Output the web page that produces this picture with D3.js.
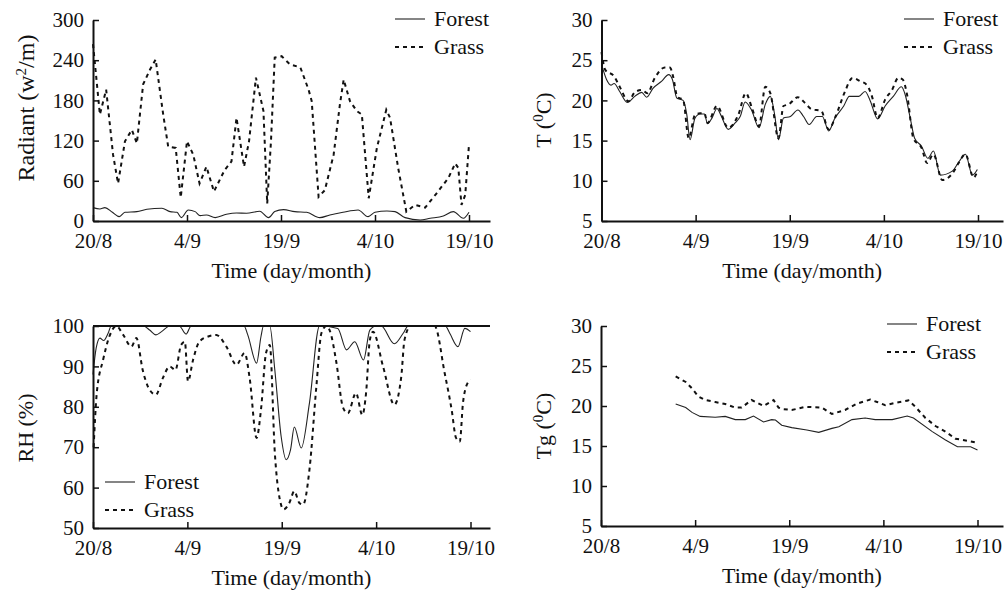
<!DOCTYPE html>
<html>
<head>
<meta charset="utf-8">
<script src="https://d3js.org/d3.v7.min.js"></script>
<style>
  body { margin: 0; background: #fff; }
  svg text { font-family: "Liberation Serif", "Times New Roman", serif; fill: #111; }
</style>
</head>
<body>
<svg id="chart" width="1004" height="594"></svg>
<script>
// x positions are days counted from 20/8
const xTickDays = [0, 15, 30, 45, 60];
const xTickLabels = ["20/8", "4/9", "19/9", "4/10", "19/10"];

// Radiant (w2/m)
const radGrassDays = [0,1.1,2.1,3.2,4,5.1,6.2,7,8,9.1,10,11.2,12,13.2,14,15,16,17,18.1,19.3,21,22.1,22.9,24.1,24.9,26,27.2,27.8,28.4,29,30.1,31.4,33.1,34.4,34.9,36,37,38.4,39.4,40,41,42.1,42.9,44,45.3,46.8,47.4,48.7,50,51.4,53,54.8,56.7,57.8,58.3,58.8,59.4,60];
const radGrass = [264,159,196,99,56,119,136,116,204,226,241,159,111,109,35,119,99,56,81,44,76,89,154,81,119,214,164,26,119,244,246,234,229,196,179,36,46,99,174,211,179,164,159,34,109,166,154,79,14,24,20,41,64,86,79,24,39,114];
const radForestDays = [0,1.1,1.9,3.1,4.2,5.1,7,8.6,11,12.3,13.4,14.1,15.2,16.3,17.1,18.1,19.5,21.3,22.9,24.5,26.6,28,29,30.4,32.2,34.1,36.2,37.8,39.9,42.3,43.9,45,46.9,48.2,49.8,52.2,53.8,55.9,57.5,59.1,60];
const radForest = [20,18,20,13,6.5,13,14,17.5,19,14,13,5,16.5,14,8,9,5,10,12,11.5,14.5,5,14,17,14,13,5,9,13,16.5,6.5,13,15,14,5,1.5,4,7.5,14,4,13];

// Air temperature T (0C)
const tForestDays = [0,0.8,1.5,2,2.9,4.1,5.3,6.4,7.2,8.2,9.6,10.7,11.3,12,13,13.6,14.1,14.9,15.7,16.4,16.9,17.6,18.4,19,20.2,21.3,22.1,22.9,23.9,25.1,26.1,26.9,27.6,28.2,29,30.1,31.3,32.2,33.1,34.3,35.2,36.2,37.2,38.6,39.5,41,42,42.8,44,45.2,46.5,47.8,48.4,49.2,49.9,51,52,52.9,54,55.9,57,58,59.1,59.9];
const tForest = [24.5,22.6,21.9,22.1,21.1,19.75,20.5,21.0,20.4,21.5,22.4,23.2,22.6,20.3,20.0,18.2,15.1,17.8,18.3,18.3,17.1,17.8,19.0,18.2,16.4,17.2,18.0,19.8,18.8,16.6,19.5,20.5,18.2,15.1,17.8,18.0,18.8,18.0,17.0,18.0,18.0,16.2,17.8,19.3,20.5,20.5,21.1,20.0,17.7,19.3,20.5,21.7,20.7,17.8,15.3,14.3,12.8,13.7,10.7,11.2,12.4,13.3,10.7,11.4];
const tGrassDays = [0,0.6,2,2.9,4.3,5.3,6.4,7.3,8.5,10.1,10.9,11.4,12.1,13,13.9,14.9,15.7,16.4,16.9,18.4,20.2,21.8,23,24,25.1,26.1,26.9,28.2,29,29.8,31.3,32.4,33.5,35,36.2,37.3,38.8,40,41.2,42.3,43.1,44,45.2,46.3,47.3,48,48.7,49.7,51,51.9,52.9,54.3,56,56.9,58,59.3,59.9];
const tGrass = [26.0,23.8,23.0,21.7,19.9,21.0,21.3,20.9,22.8,24.1,24.1,23.0,20.4,20.1,15.3,18.2,18.4,18.4,17.2,19.3,16.6,18.2,20.9,19.0,16.8,21.7,20.9,15.3,19.3,19.5,20.4,19.7,18.9,18.7,16.4,18.0,21.1,22.8,22.4,21.9,20.5,17.8,20.1,21.3,22.8,22.6,20.7,15.3,14.1,12.2,13.3,10.1,11.0,12.2,13.3,10.4,11.2];

// Relative humidity RH (%)
const rhForestDays = [0,0.5,1.1,1.7,2.4,2.9,8,9,10,10.9,12.2,13.7,14.8,15.6,24,24.6,26,26.7,27.1,28.1,28.9,29.9,30.7,31.4,32,33.1,34.4,36,38.9,40.3,41.6,43,44,45,45.8,47.9,49.3,50.1,56,56.7,58,59.1,60];
const rhForest = [88,94.5,97,96.4,98.2,100,100,99,97.8,98.6,100,100,98,100,100,97.8,90.8,97.4,100,100,89.1,72.7,66.9,69.4,75,69.8,80.9,100,99.4,94.1,96.1,91.6,99,100,100,95.6,98.2,100,100,98.2,94.9,99.4,98.6];
const rhGrassDays = [0.1,0.6,1.6,2.6,3.7,4.8,6.1,6.9,7.9,9,10,11.1,12.2,13.1,14,14.6,15.1,15.9,16.9,18.3,19.6,21.2,22.8,24.1,24.9,26,26.7,27.5,28.1,28.9,29.7,30.3,31.2,32,32.8,33.4,34.4,35.5,36.3,37.1,37.6,38.7,39.7,40.5,41.8,42.8,43.4,44,44.5,46.1,47.9,49,49.5,50.5,54.3,55.9,57,57.7,58.3,58.8,59.3,60];
const rhGrass = [70,83.4,91.6,97.4,100,97.8,94.9,97,89.1,84.2,83,87.1,90,89.1,95.3,96.1,86.3,91.6,96.1,97.4,97.8,94.9,90.4,93.3,87.1,72.3,79.3,93.3,95.3,68.6,57,54.6,56.2,59.1,56.2,55.8,64.4,85,98.2,100,99,90.8,80,78.4,83.4,78,83.4,96.5,98.6,90,80.5,87.5,96.5,100,100,88.3,79.3,72.3,71.4,80.9,85,86.7];

// Ground temperature Tg (0C)
const tgForestDays = [11.9,13.5,14.5,15.8,18.2,19.8,21.4,23,24.3,25.9,27.2,27.8,28.8,30.4,32.8,34.7,36.8,37.9,40,42.1,43.7,46.4,48.8,49.8,52.8,54.9,56.8,58.9,60];
const tgForest = [20.25,19.8,19.2,18.7,18.6,18.7,18.3,18.3,18.75,18.0,18.3,18.25,17.6,17.3,17.0,16.7,17.2,17.4,18.3,18.5,18.3,18.3,18.75,18.5,16.8,15.75,14.9,14.9,14.5];
const tgGrassDays = [11.9,13.5,14.5,15.5,16.6,18.2,19.8,21.4,22.4,24,25.9,27.5,28.3,29.1,30.4,32.6,35.2,36.8,38.9,40.8,42.9,44,45.3,46.9,49,50.1,51.7,53.3,54.9,56.5,58.1,60];
const tgGrass = [23.7,23.0,22.2,21.2,20.75,20.5,20.25,19.8,19.8,20.75,20.0,20.75,19.8,19.6,19.5,19.9,19.8,19.0,19.5,20.3,20.8,20.5,20.1,20.4,20.7,19.9,18.5,17.5,16.8,15.9,15.7,15.4];

const zip = (xs, ys) => xs.map((d, i) => [d, ys[i]]);

const svg = d3.select('#chart');

const panels = [
    { x0: 93, x60: 469, xEnd: 490, yTop: 20, yBot: 221, yDomain: [0, 300], yTicks: [0, 60, 120, 180, 240, 300],
      title: ['Radiant (w', '2', '/m)'], titleX: 34, titleY: 108, titleSize: 24,
      forest: zip(radForestDays, radForest), grass: zip(radGrassDays, radGrass),
      grassCurve: d3.curveLinear, forestCurve: d3.curveMonotoneX,
      legend: { x: 395, y: 19 } },
    { x0: 601.5, x60: 978, xEnd: 1003, yTop: 20, yBot: 221, yDomain: [5, 30], yTicks: [5, 10, 15, 20, 25, 30],
      title: ['T (', '0', 'C)'], titleX: 551, titleY: 120, titleSize: 22,
      forest: zip(tForestDays, tForest), grass: zip(tGrassDays, tGrass),
      grassCurve: d3.curveMonotoneX, forestCurve: d3.curveMonotoneX,
      legend: { x: 904, y: 19 } },
    { x0: 93, x60: 470.5, xEnd: 490, yTop: 326, yBot: 528, yDomain: [50, 100], yTicks: [50, 60, 70, 80, 90, 100],
      title: ['RH (%)'], titleX: 33, titleY: 428, titleSize: 22, topLine: true,
      forest: zip(rhForestDays, rhForest), grass: zip(rhGrassDays, rhGrass),
      grassCurve: d3.curveMonotoneX, forestCurve: d3.curveMonotoneX,
      legend: { x: 105, y: 482 } },
    { x0: 601, x60: 977.5, xEnd: 1003, yTop: 326, yBot: 526, yDomain: [5, 30], yTicks: [5, 10, 15, 20, 25, 30],
      title: ['Tg (', '0', 'C)'], titleX: 551, titleY: 426, titleSize: 22,
      forest: zip(tgForestDays, tgForest), grass: zip(tgGrassDays, tgGrass),
      grassCurve: d3.curveLinear, forestCurve: d3.curveLinear,
      legend: { x: 887, y: 324 } }
];

function drawPanel(p) {
    const dayMax = 60 * (p.xEnd - p.x0) / (p.x60 - p.x0);
    const x = d3.scaleLinear().domain([0, dayMax]).range([p.x0, p.xEnd]);
    const y = d3.scaleLinear().domain(p.yDomain).range([p.yBot, p.yTop]);
    const g = svg.append('g');

    // data lines
    const line = curve => d3.line().x(d => x(d[0])).y(d => y(d[1])).curve(curve);
    g.append('path').datum(p.forest)
        .attr('d', line(p.forestCurve))
        .attr('fill', 'none').attr('stroke', '#222').attr('stroke-width', 1.1);
    g.append('path').datum(p.grass)
        .attr('d', line(p.grassCurve))
        .attr('fill', 'none').attr('stroke', '#111').attr('stroke-width', 2)
        .attr('stroke-dasharray', '4,4');

    if (p.topLine) {
        g.append('line')
            .attr('x1', p.x0).attr('x2', p.xEnd)
            .attr('y1', y(p.yDomain[1])).attr('y2', y(p.yDomain[1]))
            .attr('stroke', '#111').attr('stroke-width', 2);
    }

    // axes, ticks pointing inward
    const xAxis = d3.axisBottom(x).tickValues(xTickDays)
        .tickFormat((d, i) => xTickLabels[i])
        .tickSizeInner(-6).tickSizeOuter(0).tickPadding(12);
    const yAxis = d3.axisLeft(y).tickValues(p.yTicks)
        .tickSizeInner(-6).tickSizeOuter(0).tickPadding(9);

    const gx = g.append('g').attr('transform', `translate(0,${p.yBot})`).call(xAxis);
    const gy = g.append('g').attr('transform', `translate(${p.x0},0)`).call(yAxis);
    [gx, gy].forEach(a => {
        a.select('.domain').attr('stroke', '#111').attr('stroke-width', 2);
        a.selectAll('.tick line').attr('stroke', '#111').attr('stroke-width', 1.5);
        a.selectAll('.tick text').attr('font-size', 21)
            .attr('font-family', '"Liberation Serif", serif').attr('fill', '#111');
    });

    // axis titles
    g.append('text')
        .attr('x', (p.x0 + p.xEnd) / 2).attr('y', p.yBot + 57)
        .attr('text-anchor', 'middle').attr('font-size', 22)
        .text('Time (day/month)');

    const yt = g.append('text')
        .attr('transform', `translate(${p.titleX},${p.titleY}) rotate(-90)`)
        .attr('text-anchor', 'middle').attr('font-size', p.titleSize);
    yt.append('tspan').text(p.title[0]);
    if (p.title.length > 1) {
        yt.append('tspan').attr('dy', -8).attr('font-size', 15).text(p.title[1]);
        yt.append('tspan').attr('dy', 8).text(p.title[2]);
    }

    // legend
    const lg = g.append('g').attr('transform', `translate(${p.legend.x},${p.legend.y})`);
    lg.append('line').attr('x1', 0).attr('x2', 30).attr('y1', 0).attr('y2', 0)
        .attr('stroke', '#222').attr('stroke-width', 1.1);
    lg.append('line').attr('x1', 0).attr('x2', 30).attr('y1', 28).attr('y2', 28)
        .attr('stroke', '#111').attr('stroke-width', 2).attr('stroke-dasharray', '4,4');
    lg.append('text').attr('x', 39).attr('y', 7).attr('font-size', 22).text('Forest');
    lg.append('text').attr('x', 39).attr('y', 35).attr('font-size', 22).text('Grass');
}

panels.forEach(drawPanel);
</script>
</body>
</html>
